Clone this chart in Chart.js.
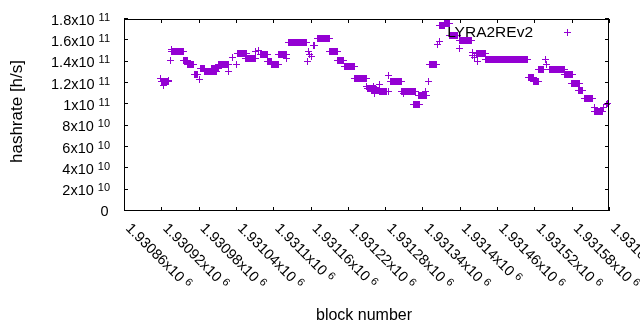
<!DOCTYPE html>
<html>
<head>
<meta charset="utf-8">
<script src="https://cdn.jsdelivr.net/npm/chart.js"></script>
<style>
  html, body { margin: 0; padding: 0; background: #fff; }
</style>
</head>
<body>
<canvas id="hash" width="640" height="330"></canvas>
<script>
// runs of consecutive blocks that share one hashrate estimate
var runStart = [1930921, 1930937, 1930955, 1930962, 1930973, 1930983, 1930990, 1931001, 1931012, 1931042,
                1931056, 1931079, 1931090, 1931098, 1931108, 1931124, 1931171, 1931190, 1931204, 1931214,
                1931230, 1931252, 1931258, 1931271, 1931288, 1931306, 1931325, 1931333, 1931351, 1931368,
                1931375, 1931384, 1931400, 1931427, 1931442, 1931510, 1931518, 1931526, 1931544, 1931568,
                1931580, 1931591, 1931601, 1931617];
var runEnd   = [1930932, 1930955, 1930962, 1930972, 1930979, 1930990, 1931008, 1931012, 1931028, 1931057,
                1931072, 1931090, 1931098, 1931108, 1931121, 1931153, 1931191, 1931203, 1931213, 1931230,
                1931250, 1931264, 1931271, 1931282, 1931306, 1931328, 1931336, 1931346, 1931363, 1931375,
                1931384, 1931397, 1931419, 1931441, 1931509, 1931518, 1931527, 1931534, 1931569, 1931581,
                1931593, 1931598, 1931614, 1931630];
var runRate  = [1.21e11, 1.50e11, 1.41e11, 1.378e11, 1.284e11, 1.338e11, 1.3125e11, 1.338e11, 1.369e11, 1.478e11,
                1.431e11, 1.469e11, 1.406e11, 1.375e11, 1.469e11, 1.581e11, 1.619e11, 1.497e11, 1.413e11, 1.356e11,
                1.244e11, 1.153e11, 1.134e11, 1.118e11, 1.212e11, 1.118e11, 1.0e11, 1.0875e11, 1.375e11, 1.739e11,
                1.758e11, 1.65e11, 1.603e11, 1.478e11, 1.422e11, 1.25e11, 1.212e11, 1.327e11, 1.328e11, 1.278e11,
                1.1925e11, 1.13e11, 1.056e11, 9.31e10];

// single blocks off the runs
var pointBlock = [1930918, 1930923, 1930931, 1930935, 1930936, 1930981, 1931028, 1931035, 1931041, 1931071,
                  1931077, 1931121, 1931155, 1931156, 1931159, 1931162, 1931164, 1931167, 1931250, 1931261,
                  1931263, 1931271, 1931277, 1931285, 1931286, 1931309, 1931345, 1931349, 1931364, 1931367,
                  1931399, 1931420, 1931421, 1931424, 1931428, 1931538, 1931539, 1931616, 1931631, 1931636,
                  1931638];
var pointRate  = [1.244e11, 1.172e11, 1.228e11, 1.409e11, 1.51e11, 1.2375e11, 1.3125e11, 1.437e11, 1.369e11, 1.493e11,
                  1.509e11, 1.431e11, 1.406e11, 1.493e11, 1.47e11, 1.447e11, 1.55e11, 1.556e11, 1.165e11, 1.17e11,
                  1.103e11, 1.188e11, 1.116e11, 1.118e11, 1.275e11, 1.10e11, 1.125e11, 1.212e11, 1.563e11, 1.587e11,
                  1.525e11, 1.4625e11, 1.49e11, 1.437e11, 1.40e11, 1.425e11, 1.369e11, 9.69e10, 9.66e10, 9.94e10,
                  1.01e11];

var xTicks = [1930860, 1930920, 1930980, 1931040, 1931100, 1931160, 1931220,
              1931280, 1931340, 1931400, 1931460, 1931520, 1931580, 1931640];
var yTicks = [0, 2e10, 4e10, 6e10, 8e10, 1e11, 1.2e11, 1.4e11, 1.6e11, 1.8e11];
var seriesName = 'LYRA2REv2';

var purple = '#9400d3';
var fam = '"Liberation Sans", Arial, sans-serif';

var points = [];
for (var i = 0; i < runStart.length; i++) {
  for (var b = runStart[i]; b <= runEnd[i]; b++) points.push({x: b, y: runRate[i]});
}
for (var j = 0; j < pointBlock.length; j++) points.push({x: pointBlock[j], y: pointRate[j]});

// crisp 7px "+" like gnuplot's pt 1
var mark = document.createElement('canvas');
mark.width = 7; mark.height = 7;
var mc = mark.getContext('2d');
mc.fillStyle = purple;
mc.fillRect(0, 3, 7, 1);
mc.fillRect(3, 0, 1, 7);

function sci(v, e) {
  if (v === 0) return ['0', ''];
  var m = +(v / Math.pow(10, e)).toFixed(5);
  return [m + 'x10', String(e)];
}

var frame = {
  id: 'frame',
  beforeDatasetsDraw: function(chart) {
    chart.ctx.imageSmoothingEnabled = false;
  },
  afterDatasetsDraw: function(chart) {
    var ctx = chart.ctx, a = chart.chartArea;
    var xs = chart.scales.x, ys = chart.scales.y;
    var tl = 4;
    ctx.save();
    ctx.strokeStyle = '#000';
    ctx.lineWidth = 1;
    ctx.strokeRect(a.left + 0.5, a.top + 0.5, a.right - a.left - 1, a.bottom - a.top - 1);
    ctx.beginPath();
    yTicks.forEach(function(v) {
      var y = Math.round(ys.getPixelForValue(v)) - 0.5;
      ctx.moveTo(a.left, y); ctx.lineTo(a.left + tl, y);
      ctx.moveTo(a.right, y); ctx.lineTo(a.right - tl, y);
    });
    xTicks.forEach(function(v) {
      var x = Math.round(xs.getPixelForValue(v)) + 0.5;
      ctx.moveTo(x, a.bottom); ctx.lineTo(x, a.bottom - tl);
      ctx.moveTo(x, a.top); ctx.lineTo(x, a.top + tl);
    });
    ctx.stroke();

    ctx.fillStyle = '#000';
    var mainFont = '14.5px ' + fam, supFont = '11px ' + fam;
    // y labels, right aligned
    yTicks.forEach(function(v) {
      var y = ys.getPixelForValue(v);
      var e = v === 0 ? 0 : Math.floor(Math.log10(v) + 1e-9);
      var p = sci(v, e);
      ctx.textAlign = 'right';
      if (!p[1]) {
        ctx.font = mainFont;
        ctx.fillText(p[0], 108.5, y + 5);
        return;
      }
      ctx.font = supFont;
      var sw = ctx.measureText(p[1]).width;
      ctx.fillText(p[1], 110, y + 1.5);
      ctx.font = mainFont;
      ctx.fillText(p[0], 110 - sw - 4, y + 5.5);
    });
    // x labels, rotated
    xTicks.forEach(function(v) {
      var x = xs.getPixelForValue(v);
      var p = sci(v, 6);
      ctx.save();
      ctx.translate(x + 1, 229);
      ctx.rotate(Math.PI / 4);
      ctx.textAlign = 'left';
      ctx.font = mainFont;
      var mw = ctx.measureText(p[0]).width;
      ctx.fillText(p[0], 0, 0);
      ctx.font = supFont;
      ctx.fillText(p[1], mw + 4, -4);
      ctx.restore();
    });

    // axis titles
    ctx.font = '16px ' + fam;
    ctx.textAlign = 'center';
    ctx.textBaseline = 'middle';
    ctx.fillText('block number', 364, 316);
    ctx.save();
    ctx.translate(17, 111.5);
    ctx.rotate(-Math.PI / 2);
    ctx.font = '17px ' + fam;
    ctx.fillText('hashrate [h/s]', 0, 0);
    ctx.restore();

    // key
    ctx.textBaseline = 'alphabetic';
    ctx.textAlign = 'right';
    ctx.font = '15.5px ' + fam;
    ctx.fillText(seriesName, 533, 37);
    ctx.drawImage(mark, 564, 29);
    ctx.restore();
    ctx.imageSmoothingEnabled = true;
  }
};

new Chart(document.getElementById('hash'), {
  type: 'scatter',
  data: {
    datasets: [{
      label: seriesName,
      data: points,
      pointStyle: mark,
      pointRadius: 3.5,
      pointHoverRadius: 3.5,
      borderWidth: 1,
      borderColor: purple,
      backgroundColor: purple,
      clip: false
    }]
  },
  options: {
    responsive: false,
    animation: false,
    events: [],
    layout: { padding: { left: 124, right: 31, top: 19, bottom: 119 } },
    plugins: { legend: { display: false }, tooltip: { enabled: false } },
    scales: {
      x: {
        type: 'linear', min: 1930860, max: 1931640,
        ticks: { display: false }, grid: { display: false }, border: { display: false },
        afterFit: function(s) { s.height = 0; }
      },
      y: {
        type: 'linear', min: 0, max: 1.8e11,
        ticks: { display: false }, grid: { display: false }, border: { display: false },
        afterFit: function(s) { s.width = 0; }
      }
    }
  },
  plugins: [frame]
});
</script>
</body>
</html>
